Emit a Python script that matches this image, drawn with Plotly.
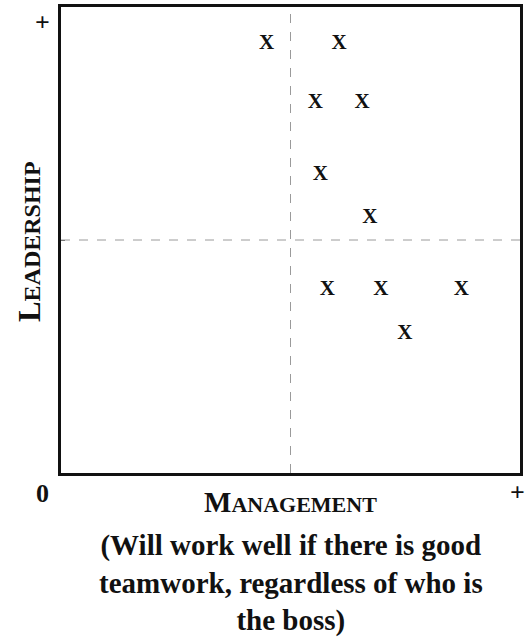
import plotly.graph_objects as go

# Data (management score, leadership score) on a 0-10 scale
management = [4.48, 6.06, 5.54, 6.56, 5.65, 6.73, 5.80, 6.97, 8.72, 7.49]
leadership = [9.21, 9.21, 7.94, 7.94, 6.40, 5.48, 3.93, 3.93, 3.93, 2.99]
marker_labels = ["X"] * len(management)
axis_min, axis_max, axis_mid = 0, 10, 5

SERIF = "Liberation Serif"

fig = go.Figure()
fig.add_trace(go.Scatter(
    x=management, y=leadership, mode="text", text=marker_labels,
    textposition="middle center",
    textfont=dict(family=SERIF, size=21, color="#111111", weight="bold"),
    hoverinfo="skip", showlegend=False,
))

# quadrant dashed lines
fig.add_shape(type="line", x0=axis_mid, x1=axis_mid, y0=axis_min, y1=axis_max,
              xref="x", yref="y", line=dict(color="#9a9a9a", width=1, dash="dash"))
fig.add_shape(type="line", x0=axis_min, x1=axis_max, y0=axis_mid, y1=axis_mid,
              xref="x", yref="y", line=dict(color="#9a9a9a", width=1, dash="dash"))

fig.update_xaxes(range=[axis_min, axis_max], showgrid=False, zeroline=False,
                 showticklabels=False, ticks="", showline=True, linecolor="#111111",
                 linewidth=3, mirror=True)
fig.update_yaxes(range=[axis_min, axis_max], showgrid=False, zeroline=False,
                 showticklabels=False, tickvals=[axis_mid], ticks="inside", ticklen=4,
                 tickcolor="#555555", showline=True, linecolor="#111111",
                 linewidth=3, mirror=True)

ann_font = dict(family=SERIF, color="#111111", weight="bold")
annotations = [
    dict(text="+", x=-0.041, y=0.966, font=dict(size=26, **ann_font)),
    dict(text="0", x=-0.041, y=-0.043, font=dict(size=26, **ann_font)),
    dict(text="+", x=0.995, y=-0.041, font=dict(size=26, **ann_font)),
    dict(text='<span style="font-size:31px">L</span>EADERSHIP', x=-0.067, y=0.496,
         textangle=-90, font=dict(size=24, **ann_font)),
    dict(text='<span style="font-size:29px">M</span>ANAGEMENT', x=0.5, y=-0.062,
         font=dict(size=22, **ann_font)),
    dict(text="(Will work well if there is good<br>teamwork, regardless of who is<br>the boss)",
         x=0.5, y=-0.116, yanchor="top", font=dict(size=29, **ann_font)),
]
for a in annotations:
    a.setdefault("yanchor", "middle")
    fig.add_annotation(xref="paper", yref="paper", showarrow=False, xanchor="center", **a)

fig.update_layout(
    width=525, height=640,
    margin=dict(l=61, r=2, t=7, b=167),
    plot_bgcolor="white", paper_bgcolor="white",
)

fig.write_html(
    "out.html",
    config={"displayModeBar": False},
    post_script="document.body.style.margin='0';document.body.style.overflow='hidden';",
)
